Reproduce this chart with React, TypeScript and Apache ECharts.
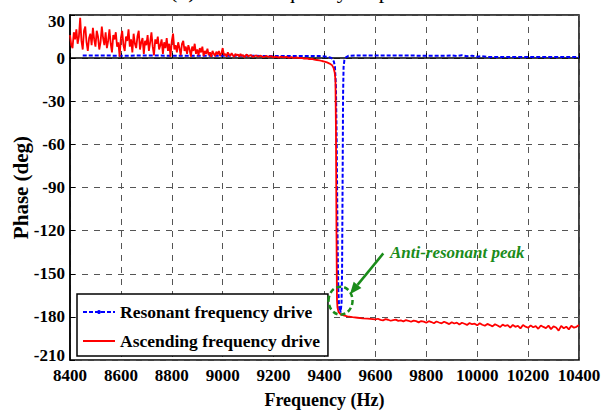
import { useEffect, useRef } from 'react';
import * as echarts from 'echarts';

const FONT = 'Liberation Serif, Times New Roman, serif';
const GREEN = '#1a8c1a';

// Frequency axis (Hz) and phase axis (deg)
const X_MIN = 8400;
const X_MAX = 10400;
const X_STEP = 200;
const Y_MIN = -210;
const Y_MAX = 30;
const Y_STEP = 30;

const SERIES_NAMES = ['Resonant frequency drive', 'Ascending frequency drive'];

// Resonant frequency drive: [frequency (Hz), phase (deg)]
const resonantDrive: [number, number][] = [
  [8450, 1.8], [8500, 1.8], [8600, 1.7], [8700, 1.8], [8800, 1.7], [8900, 1.7],
  [9000, 1.6], [9100, 1.6], [9200, 1.5], [9300, 1.5], [9380, 1.4], [9410, 1.0],
  [9425, 0.3], [9432, -0.8], [9437, -2.5], [9441, -6], [9445, -20], [9448, -60],
  [9451, -120], [9454, -160], [9457, -172], [9459, -176], [9461, -173], [9463, -177],
  [9465, -174], [9467, -170], [9469, -150], [9471, -90], [9473, -25], [9475, -6],
  [9478, -1.5], [9484, 0.5], [9494, 1.6], [9520, 1.8], [9600, 1.8], [9700, 1.8],
  [9800, 1.7], [9880, 1.7], [9900, 1.9], [9920, 1.5], [9940, 2.0], [9960, 1.3],
  [9980, 1.7], [10000, 1.0], [10020, 1.4], [10040, 0.8], [10100, 0.8], [10200, 0.8],
  [10300, 0.7], [10400, 0.7],
];

// Ascending frequency drive, low band (noisy, above resonance)
const ascendingLow: [number, number][] = [
  [8400, 16], [8405, 9], [8410, 7], [8415, 18], [8420, 13], [8425, 20], [8430, 10],
  [8435, 15], [8440, 28], [8445, 12], [8450, 6], [8455, 19], [8460, 22], [8465, 11],
  [8470, 5], [8475, 14], [8480, 17], [8485, 9], [8490, 21], [8495, 13], [8500, 8],
  [8505, 19], [8510, 15], [8515, 6], [8520, 11], [8525, 22], [8530, 14], [8535, 9],
  [8540, 18], [8545, 7], [8550, 12], [8555, 20], [8560, 10], [8565, 4], [8570, 16],
  [8575, 13], [8580, 18], [8585, 8], [8590, 11], [8595, 1], [8600, 14], [8605, 19],
  [8610, 9], [8615, 5], [8620, 15], [8625, 12], [8630, 20], [8635, 8], [8640, 13],
  [8645, 4], [8650, 17], [8655, 10], [8660, 7], [8665, 15], [8670, 19], [8675, 6],
  [8680, 11], [8685, 14], [8690, 3], [8695, 12], [8700, 9], [8705, 16], [8710, 5],
  [8715, 11], [8720, 18], [8725, 8], [8730, 2], [8735, 13], [8740, 10], [8745, 15],
  [8750, 6], [8755, 9], [8760, 13], [8765, 3], [8770, 11], [8775, 7], [8780, 14],
  [8785, 5], [8790, 10], [8795, 1], [8800, 12], [8805, 17], [8810, 6], [8815, 9],
  [8820, 4], [8825, 11], [8830, 7], [8835, 2], [8840, 10], [8845, 12], [8850, 5],
  [8855, 8], [8860, 3], [8865, 9], [8870, 6], [8875, 1], [8880, 8], [8885, 5],
  [8890, 10], [8895, 3], [8900, 6], [8905, 2], [8910, 7], [8915, 4], [8920, 8],
  [8925, 1.5], [8930, 5], [8935, 3], [8940, 6.5], [8945, 2], [8950, 4], [8955, 1],
  [8960, 5], [8965, 3], [8970, 1.5], [8975, 4.5], [8980, 2.5], [8985, 5], [8990, 1.5],
  [8995, 3.5], [9000, 7], [9005, 2], [9010, 3], [9015, 1], [9020, 4], [9025, 2.5],
  [9030, 1.5], [9035, 3.5], [9040, 2], [9045, 0.8], [9050, 3], [9055, 1.8], [9060, 2.6],
  [9065, 1], [9070, 3], [9075, 1.4], [9080, 2.2], [9085, 0.6], [9090, 1.8], [9095, 2.6],
  [9100, 1.2], [9110, 2.2], [9120, 0.8], [9130, 1.9], [9140, 1.0], [9150, 1.7],
  [9160, 0.6], [9170, 1.5], [9180, 0.9], [9190, 1.4], [9200, 0.5],
];

// Ascending frequency drive, transition through the anti-resonance
const ascendingTransition: [number, number][] = [
  [9210, 1.0], [9220, 0.4], [9230, 1.1], [9240, 0.5], [9250, 0.9], [9260, 0.2],
  [9270, 0.7], [9280, 0.1], [9290, 0.5], [9300, 0.0], [9310, 0.2], [9320, -0.4],
  [9330, -0.2], [9340, -0.7], [9350, -0.6], [9360, -1.1], [9370, -1.3], [9380, -1.5],
  [9390, -2.0], [9400, -2.4], [9410, -3.0], [9420, -3.8], [9430, -5.0], [9436, -7],
  [9440, -10], [9443, -15], [9445, -50], [9447, -120], [9449, -168], [9451, -173.5],
  [9455, -176.5], [9462, -178], [9475, -179], [9490, -179.6], [9510, -180.2],
  [9530, -180.6], [9550, -181], [9570, -181.2], [9590, -181.6],
];

// Ascending frequency drive, high band (noisy, below resonance)
const ascendingHigh: [number, number][] = [
  [9600, -181.8], [9610, -181.3], [9620, -182.1], [9630, -182.4], [9640, -181.6],
  [9650, -182.0], [9660, -182.7], [9670, -182.2], [9680, -181.9], [9690, -182.8],
  [9700, -182.5], [9710, -183.1], [9720, -182.3], [9730, -182.7], [9740, -183.4],
  [9750, -182.6], [9760, -183.0], [9770, -183.8], [9780, -182.9], [9790, -183.3],
  [9800, -184.1], [9810, -183.0], [9820, -183.6], [9830, -184.4], [9840, -183.2],
  [9850, -183.9], [9860, -184.5], [9870, -183.4], [9880, -184.2], [9890, -185.0],
  [9900, -183.7], [9910, -184.6], [9920, -184.0], [9930, -185.3], [9940, -184.1],
  [9950, -184.8], [9960, -185.6], [9970, -184.3], [9980, -185.1], [9990, -184.7],
  [10000, -185.9], [10010, -184.4], [10020, -185.5], [10030, -186.2], [10040, -184.9],
  [10050, -185.7], [10060, -186.6], [10070, -185.1], [10080, -186.0], [10090, -187.1],
  [10100, -185.4], [10110, -186.3], [10120, -185.8], [10130, -187.5], [10140, -185.6],
  [10150, -186.9], [10160, -186.2], [10170, -188.0], [10180, -185.7], [10190, -186.8],
  [10200, -187.6], [10210, -185.9], [10220, -187.2], [10230, -186.4], [10240, -188.3],
  [10250, -186.0], [10260, -187.0], [10270, -187.8], [10280, -186.1], [10290, -188.5],
  [10300, -186.6], [10310, -187.4], [10320, -189.6], [10330, -186.3], [10340, -187.9],
  [10350, -186.8], [10360, -188.7], [10370, -186.2], [10380, -187.5], [10390, -186.9],
  [10400, -185.6],
];

// Annotation anchors in data space: [Hz, deg]
const PEAK_MARK: [number, number] = [9463, -168.7];
const ARROW_TAIL: [number, number] = [9631, -135.8];
const ARROW_TIP: [number, number] = [9500, -164.2];
const LABEL_AT: [number, number] = [9657, -135];

const labelStyle = {
  color: '#000',
  fontFamily: FONT,
  fontWeight: 'bold' as const,
  fontSize: 17,
};

export default function App() {
  const ref = useRef<HTMLDivElement>(null);

  useEffect(() => {
    if (!ref.current) return;
    const chart = echarts.init(ref.current, null, { renderer: 'svg' });
    const ascending = [...ascendingLow, ...ascendingTransition, ...ascendingHigh];

    chart.setOption({
      animation: false,
      backgroundColor: '#fff',
      grid: {
        left: 70,
        right: 35,
        top: 15,
        bottom: 52,
        outerBoundsMode: 'none',
        containLabel: false,
        show: true,
        borderColor: '#000',
        borderWidth: 1.5,
        backgroundColor: 'transparent',
      },
      legend: {
        orient: 'vertical',
        left: 77,
        top: 294,
        backgroundColor: '#fff',
        borderColor: '#000',
        borderWidth: 1.5,
        borderRadius: 0,
        padding: [8, 8, 5, 5],
        itemWidth: 32,
        itemHeight: 5,
        itemGap: 9,
        textStyle: { ...labelStyle, fontSize: 17.5, lineHeight: 20 },
        data: [
          { name: SERIES_NAMES[0] },
          { name: SERIES_NAMES[1], itemStyle: { opacity: 0 } },
        ],
      },
      xAxis: {
        type: 'value',
        min: X_MIN,
        max: X_MAX,
        interval: X_STEP,
        axisLine: { show: true, lineStyle: { color: '#000', width: 1.5 } },
        axisTick: { show: true, inside: true, length: 5, lineStyle: { color: '#000' } },
        axisLabel: { ...labelStyle, margin: 7, formatter: (v: number) => String(v) },
        splitLine: { show: true, lineStyle: { color: '#555', type: [6, 6], width: 1 } },
        name: 'Frequency (Hz)',
        nameLocation: 'middle',
        nameMoveOverlap: false,
        nameGap: 31,
        nameTextStyle: { ...labelStyle, fontSize: 18 },
      },
      yAxis: {
        type: 'value',
        min: Y_MIN,
        max: Y_MAX,
        interval: Y_STEP,
        axisLine: { show: true, lineStyle: { color: '#000', width: 1.5 } },
        axisTick: { show: true, inside: true, length: 5, lineStyle: { color: '#000' } },
        axisLabel: {
          ...labelStyle,
          margin: 5,
          formatter: (v: number) =>
            v === Y_MAX ? `{top|${v}}` : v === Y_MIN ? `{bot|${v}}` : String(v),
          rich: {
            top: { ...labelStyle, padding: [12, 0, 0, 0] },
            bot: { ...labelStyle, padding: [0, 0, 10, 0] },
          },
        },
        splitLine: { show: true, lineStyle: { color: '#555', type: [6, 6], width: 1 } },
        name: 'Phase (deg)',
        nameLocation: 'middle',
        nameMoveOverlap: false,
        nameGap: 39,
        nameTextStyle: { ...labelStyle, fontSize: 21 },
      },
      series: [
        {
          name: SERIES_NAMES[0],
          type: 'line',
          data: resonantDrive,
          showSymbol: false,
          symbol: 'circle',
          symbolSize: 4,
          lineStyle: { color: '#0000ff', width: 2, type: [4, 2] },
          itemStyle: { color: '#0000ff' },
          z: 2,
        },
        {
          name: SERIES_NAMES[1],
          type: 'line',
          data: ascending,
          showSymbol: false,
          symbol: 'circle',
          lineStyle: { color: '#ff0000', width: 1.8 },
          itemStyle: { color: '#ff0000' },
          z: 3,
        },
      ],
    });

    const toPx = (p: [number, number]) =>
      chart.convertToPixel({ gridIndex: 0 }, p) as number[];
    const c = toPx(PEAK_MARK);
    const tail = toPx(ARROW_TAIL);
    const tip = toPx(ARROW_TIP);
    const lbl = toPx(LABEL_AT);

    const dx = tip[0] - tail[0];
    const dy = tip[1] - tail[1];
    const len = Math.hypot(dx, dy);
    const ux = dx / len;
    const uy = dy / len;
    const headLen = 12;
    const headHalf = 5;
    const bx = tip[0] - ux * headLen;
    const by = tip[1] - uy * headLen;

    chart.setOption({
      graphic: [
        {
          type: 'text',
          x: 300,
          y: 1,
          silent: true,
          style: {
            text: '(b) Phase-frequency response',
            fill: '#000',
            fontFamily: FONT,
            fontSize: 22,
            align: 'center',
            verticalAlign: 'bottom',
          },
        },
        {
          type: 'ellipse',
          shape: { cx: c[0], cy: c[1], rx: 12, ry: 14 },
          style: { fill: 'none', stroke: GREEN, lineWidth: 2.5, lineDash: [5, 3] },
          z: 10,
        },
        {
          type: 'line',
          shape: { x1: tail[0], y1: tail[1], x2: bx, y2: by },
          style: { stroke: GREEN, lineWidth: 2.5 },
          z: 10,
        },
        {
          type: 'polygon',
          shape: {
            points: [
              [tip[0], tip[1]],
              [bx - uy * headHalf, by + ux * headHalf],
              [bx + uy * headHalf, by - ux * headHalf],
            ],
          },
          style: { fill: GREEN },
          z: 10,
        },
        {
          type: 'text',
          x: lbl[0],
          y: lbl[1],
          z: 10,
          style: {
            text: 'Anti-resonant peak',
            fill: GREEN,
            fontFamily: FONT,
            fontSize: 17,
            fontWeight: 'bold',
            fontStyle: 'italic',
            align: 'left',
            verticalAlign: 'middle',
          },
        },
      ],
    });

    return () => chart.dispose();
  }, []);

  return (
    <div
      ref={ref}
      style={{ position: 'absolute', left: 0, top: 0, width: 614, height: 412 }}
    />
  );
}
